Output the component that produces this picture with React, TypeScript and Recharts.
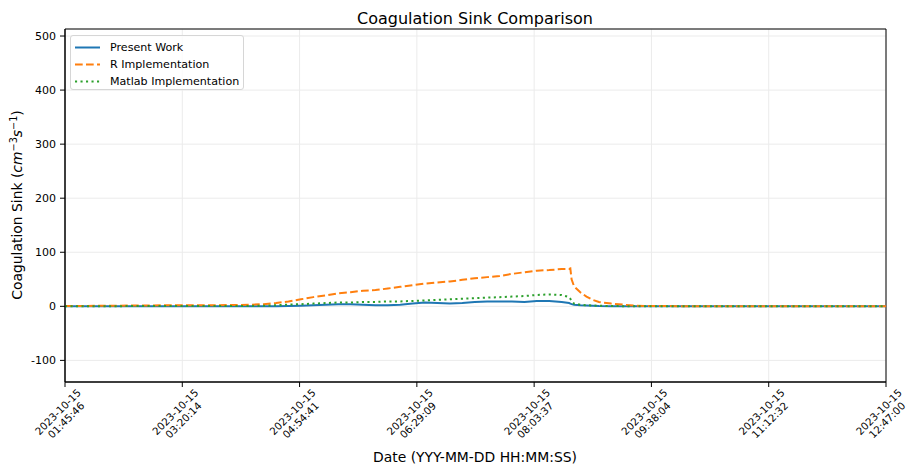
import { LineChart, Line, XAxis, YAxis, CartesianGrid, ReferenceArea } from 'recharts';

// sample timestamps (2023-10-15) and coagulation sink values in cm^-3 s^-1
const times = [
  '01:45:46', '02:15:46', '02:45:46', '03:15:46', '03:45:46', '04:05:46', '04:15:46', '04:25:46',
  '04:35:46', '04:45:46', '04:55:46', '05:05:46', '05:15:46', '05:25:46', '05:35:46', '05:45:46',
  '05:55:46', '06:05:46', '06:15:46', '06:25:46', '06:35:46', '06:45:46', '06:55:46', '07:05:46',
  '07:15:46', '07:25:46', '07:35:46', '07:45:46', '07:55:46', '08:05:46', '08:15:46', '08:25:46',
  '08:31:46', '08:32:46', '08:33:46', '08:35:46', '08:40:46', '08:45:46', '08:50:46', '08:55:46',
  '09:05:46', '09:15:46', '09:25:46', '09:35:46', '10:15:46', '11:00:00', '11:45:00', '12:47:00',
];

const presentWork = [
  0, 0, 0, 0, 0, 0, 0, 0.2,
  0.3, 0.5, 1, 2, 3, 4, 4, 3,
  2, 2, 3, 5, 7, 6, 5, 6,
  8, 9, 9, 9, 8, 10, 10, 8,
  6, 5, 4, 3, 2, 1.5, 1, 0.5,
  0.3, 0.1, 0.1, 0.1, 0.1, 0.1, 0.1, 0.1,
];

const rImplementation = [
  0.5, 1, 1.5, 2, 2, 2.5, 3, 4,
  6, 9, 13, 17, 20, 24, 26, 29,
  30, 33, 36, 39, 42, 44, 46, 49,
  52, 54, 56, 60, 63, 66, 67, 69,
  69, 70, 50, 37, 26, 18, 12, 8,
  5, 3, 1, 0.5, 0.2, 0.1, 0.1, 0.1,
];

const matlabImplementation = [
  0.3, 0.3, 0.4, 0.5, 0.5, 0.5, 0.8, 1,
  2, 3, 4, 5, 6, 7, 7, 8,
  8, 9, 9, 10, 11, 12, 13, 14,
  15, 16, 17, 18, 19, 21, 22, 21,
  17, 14, 10, 5, 3, 2, 1.5, 1,
  0.5, 0.3, 0.2, 0.1, 0.1, 0.1, 0.1, 0.1,
];

const tickTimes = ['01:45:46', '03:20:14', '04:54:41', '06:29:09', '08:03:37', '09:38:04', '11:12:32', '12:47:00'];
const tickDate = '2023-10-15';
const yTicks = [-100, 0, 100, 200, 300, 400, 500];

const toSec = (s: string) => {
  const [h, m, sec] = s.split(':').map(Number);
  return h * 3600 + m * 60 + sec;
};

const data = times.map((t, i) => ({
  t: toSec(t),
  present: presentWork[i],
  r: rImplementation[i],
  matlab: matlabImplementation[i],
}));

const xTicks = tickTimes.map(toSec);
const xDomain = [xTicks[0], xTicks[xTicks.length - 1]];
const yDomain = [-140, 513];

const FONT = 'DejaVu Sans, sans-serif';

const XTick = ({ x, y, payload }: any) => {
  const idx = xTicks.indexOf(payload.value);
  return (
    <g transform={`translate(${x - 3},${y + 27})`}>
      <text transform="rotate(-45)" textAnchor="middle" fontSize={10.3} fill="#000" fontFamily={FONT}>
        <tspan x={0} dy={-2}>{tickDate}</tspan>
        <tspan x={0} dy={11.5}>{tickTimes[idx]}</tspan>
      </text>
    </g>
  );
};

const YTick = ({ x, y, payload }: any) => (
  <text x={x} y={y} dy={4} textAnchor="end" fontSize={11} fill="#000" fontFamily={FONT}>
    {payload.value}
  </text>
);

const legendItems = [
  { name: 'Present Work', color: '#1f77b4', dash: undefined },
  { name: 'R Implementation', color: '#ff7f0e', dash: '7.7 3.3' },
  { name: 'Matlab Implementation', color: '#2ca02c', dash: '2.1 3.4' },
];

const App = () => {
  return (
    <div style={{ position: 'absolute', left: 0, top: 0, width: 908, height: 469, background: '#fff' }}>
      <LineChart width={908} height={469} data={data} margin={{ top: 29, right: 22, left: 0, bottom: 0 }}>
        <CartesianGrid stroke="#ebebeb" strokeWidth={1} />
        <XAxis
          dataKey="t"
          type="number"
          domain={xDomain}
          ticks={xTicks}
          allowDataOverflow
          height={87}
          tickSize={5}
          tick={<XTick />}
          stroke="#000"
        />
        <YAxis
          type="number"
          domain={yDomain}
          ticks={yTicks}
          allowDataOverflow
          width={65}
          tickSize={5}
          tickMargin={4}
          tick={<YTick />}
          stroke="#000"
        />
        <ReferenceArea x1={xDomain[0]} x2={xDomain[1]} y1={yDomain[0]} y2={yDomain[1]} fill="none" stroke="#000" strokeWidth={1} />
        <Line type="linear" dataKey="present" stroke="#1f77b4" strokeWidth={2} dot={false} isAnimationActive={false} />
        <Line type="linear" dataKey="r" stroke="#ff7f0e" strokeWidth={2} strokeDasharray="7.7 3.3" dot={false} isAnimationActive={false} />
        <Line type="linear" dataKey="matlab" stroke="#2ca02c" strokeWidth={2} strokeDasharray="2.1 3.4" dot={false} isAnimationActive={false} />
      </LineChart>

      <svg width={908} height={469} style={{ position: 'absolute', left: 0, top: 0, pointerEvents: 'none' }} fontFamily={FONT}>
        <text x={475} y={24} textAnchor="middle" fontSize={16} fill="#000">Coagulation Sink Comparison</text>
        <text x={475} y={462} textAnchor="middle" fontSize={13.9} fill="#000">Date (YYY-MM-DD HH:MM:SS)</text>
        <text transform="translate(22,205) rotate(-90)" textAnchor="middle" fontSize={13.9} fill="#000">
          Coagulation Sink (
          <tspan fontStyle="italic">cm</tspan>
          <tspan fontSize={9.7} dy={-5}>−3</tspan>
          <tspan fontStyle="italic" dy={5}>s</tspan>
          <tspan fontSize={9.7} dy={-5}>−1</tspan>
          <tspan dy={5}>)</tspan>
        </text>
      </svg>

      <div
        style={{
          position: 'absolute',
          left: 70,
          top: 35,
          width: 172,
          height: 53,
          border: '1px solid #d6d6d6',
          borderRadius: 3,
          background: 'rgba(255,255,255,0.8)',
          fontFamily: FONT,
          fontSize: 11.1,
          color: '#000',
        }}
      >
        {legendItems.map((item, i) => (
          <div key={item.name} style={{ position: 'absolute', left: 3, top: 3 + i * 17, height: 17, display: 'flex', alignItems: 'center' }}>
            <svg width={28} height={17}>
              <line x1={1} x2={26} y1={8.5} y2={8.5} stroke={item.color} strokeWidth={2} strokeDasharray={item.dash} />
            </svg>
            <span style={{ marginLeft: 8, whiteSpace: 'nowrap' }}>{item.name}</span>
          </div>
        ))}
      </div>
    </div>
  );
};

export default App;
